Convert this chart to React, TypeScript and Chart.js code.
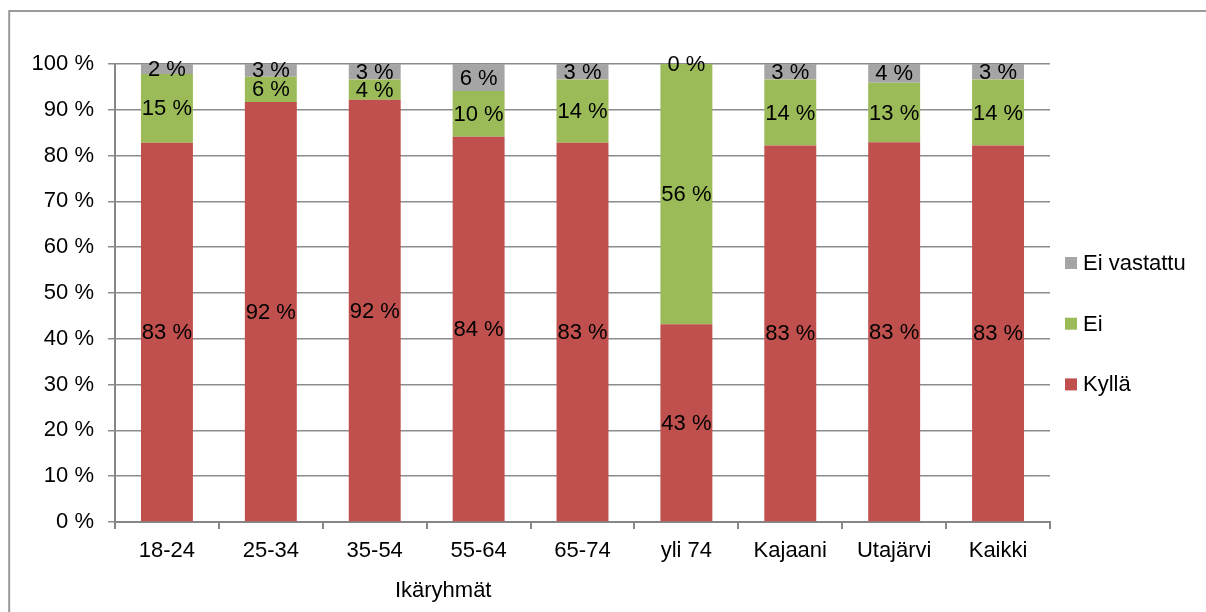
import React, { useEffect, useRef } from "react";
import { Chart, registerables } from "chart.js";

Chart.register(...registerables);

const categories = ["18-24", "25-34", "35-54", "55-64", "65-74", "yli 74", "Kajaani", "Utajärvi", "Kaikki"];
const seriesNames = ["Kyllä", "Ei", "Ei vastattu"];
const seriesColors = ["#C0504D", "#9BBB59", "#A5A5A5"];
// bar segment heights (share of the 100 % bar)
const kylla = [82.8, 91.7, 92.2, 84.1, 82.8, 43.2, 82.2, 82.9, 82.2];
const ei = [15.0, 5.5, 4.4, 10.0, 13.8, 56.8, 14.4, 13.0, 14.4];
const eiVastattu = [2.2, 2.8, 3.4, 5.9, 3.4, 0, 3.4, 4.1, 3.4];
// data label texts as printed on the bars
const kyllaLabels = [83, 92, 92, 84, 83, 43, 83, 83, 83];
const eiLabels = [15, 6, 4, 10, 14, 56, 14, 13, 14];
const eiVastattuLabels = [2, 3, 3, 6, 3, 0, 3, 4, 3];
const yTickValues = [0, 10, 20, 30, 40, 50, 60, 70, 80, 90, 100];
const xTitle = "Ikäryhmät";

const FONT = "'Liberation Sans', Arial, Helvetica, sans-serif";

export default function App() {
  const ref = useRef<HTMLCanvasElement | null>(null);

  useEffect(() => {
    if (!ref.current) return;
    const seriesValues = [kylla, ei, eiVastattu];
    const seriesLabels = [kyllaLabels, eiLabels, eiVastattuLabels];

    const framePlugin = {
      id: "frame",
      beforeDraw(chart: any) {
        const { ctx, width, height } = chart;
        ctx.save();
        ctx.fillStyle = "#ffffff";
        ctx.fillRect(0, 0, width, height);
        ctx.strokeStyle = "#9a9a9a";
        ctx.lineWidth = 2;
        ctx.beginPath();
        ctx.moveTo(1.2, height);
        ctx.lineTo(1.2, 3);
        ctx.lineTo(width, 3);
        ctx.stroke();
        ctx.restore();
      },
    };

    const labelPlugin = {
      id: "segLabels",
      afterDatasetsDraw(chart: any) {
        const { ctx } = chart;
        ctx.save();
        ctx.font = `22px ${FONT}`;
        ctx.fillStyle = "#000000";
        ctx.textAlign = "center";
        ctx.textBaseline = "middle";
        chart.data.datasets.forEach((_: any, d: number) => {
          const meta = chart.getDatasetMeta(d);
          meta.data.forEach((bar: any, i: number) => {
            const p = bar.getProps(["x", "y", "base"], true);
            const cy = (p.y + p.base) / 2;
            ctx.fillText(`${seriesLabels[d][i]} %`, p.x, cy + 1);
          });
        });
        ctx.restore();
      },
    };

    const legendAndTitlePlugin = {
      id: "legendTitle",
      afterDraw(chart: any) {
        const { ctx, chartArea } = chart;
        ctx.save();
        ctx.font = `22px ${FONT}`;
        ctx.fillStyle = "#000000";
        ctx.textBaseline = "middle";
        // axis title
        ctx.textAlign = "center";
        ctx.fillText(xTitle, chartArea.left + (chartArea.right - chartArea.left) * 0.351, 583);
        // legend (reverse order)
        ctx.textAlign = "left";
        const order = [2, 1, 0];
        order.forEach((d, k) => {
          const cy = chartArea.top + 199 + k * 60.7;
          ctx.fillStyle = seriesColors[d];
          ctx.fillRect(chartArea.right + 15, cy - 6, 12, 12);
          ctx.fillStyle = "#000000";
          ctx.fillText(seriesNames[d], chartArea.right + 33, cy + 1);
        });
        ctx.restore();
      },
    };

    const chart = new Chart(ref.current, {
      type: "bar",
      data: {
        labels: categories,
        datasets: seriesNames.map((name, d) => ({
          label: name,
          data: seriesValues[d],
          backgroundColor: seriesColors[d],
          borderWidth: 0,
          barPercentage: 0.5,
          categoryPercentage: 1,
        })),
      },
      options: {
        responsive: false,
        animation: false,
        layout: { padding: { left: 0, right: 156, top: 56, bottom: 0 } },
        plugins: {
          legend: { display: false },
          tooltip: { enabled: false },
          title: { display: false },
        },
        scales: {
          x: {
            stacked: true,
            afterFit(scale: any) {
              scale.height = 90;
            },
            grid: {
              display: true,
              drawOnChartArea: false,
              drawTicks: true,
              tickLength: 7,
              offset: true,
              color: "#868686",
              lineWidth: 2,
            },
            border: { display: true, color: "#868686", width: 2 },
            ticks: {
              color: "#000000",
              font: { family: FONT, size: 22 },
              padding: 9,
              maxRotation: 0,
              autoSkip: false,
            },
          },
          y: {
            stacked: true,
            min: 0,
            max: 100,
            afterFit(scale: any) {
              scale.width = 107;
            },
            afterBuildTicks(scale: any) {
              scale.ticks = yTickValues.map((v) => ({ value: v }));
            },
            grid: {
              color: "#8c8c8c",
              lineWidth: 1.5,
              drawTicks: true,
              tickLength: 7,
            },
            border: { display: true, color: "#868686", width: 2 },
            ticks: {
              color: "#000000",
              font: { family: FONT, size: 22 },
              padding: 14,
              callback: (v: any) => `${v} %`,
            },
          },
        },
      },
      plugins: [framePlugin, labelPlugin, legendAndTitlePlugin],
    });
    return () => chart.destroy();
  }, []);

  return (
    <div style={{ position: "fixed", left: 8, top: 8, width: 1198, height: 604, overflow: "hidden" }}>
      <canvas ref={ref} width={1198} height={604} style={{ display: "block" }} />
    </div>
  );
}
